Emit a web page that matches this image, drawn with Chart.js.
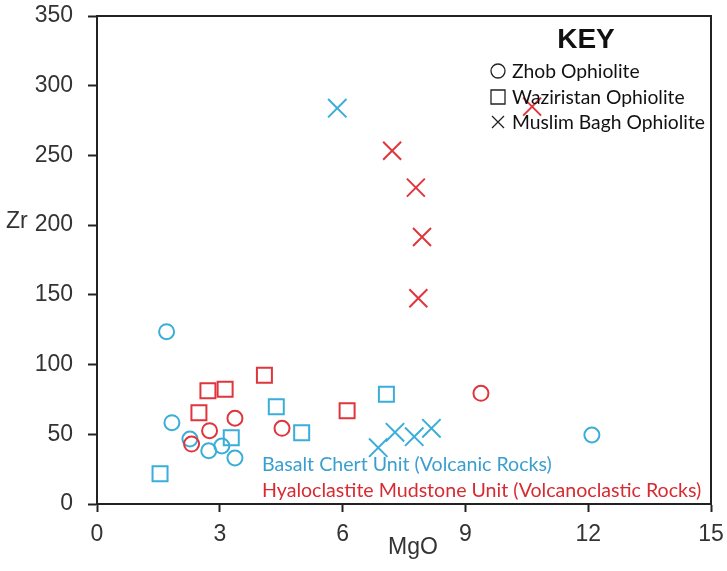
<!DOCTYPE html>
<html>
<head>
<meta charset="utf-8">
<script src="https://cdn.jsdelivr.net/npm/chart.js@4"></script>
<style>
    html, body { margin: 0; padding: 0; background: #fff; }
    #wrap { width: 727px; height: 571px; }
</style>
</head>
<body>
<div id="wrap"><canvas id="chart"></canvas></div>
<script>
// MgO / Zr values
// Basalt Chert Unit (Volcanic Rocks) - blue
const basaltZhobX = [1.70, 1.83, 2.27, 2.73, 3.05, 3.37, 12.09];
const basaltZhobY = [123.6, 58.3, 46.6, 38.2, 41.6, 33.0, 49.5];
const basaltWazX = [1.54, 3.28, 4.38, 5.00, 7.07];
const basaltWazY = [21.7, 47.6, 69.8, 51.1, 78.7];
const basaltMuslimX = [5.87, 6.87, 7.28, 7.75, 8.17];
const basaltMuslimY = [283.9, 40.4, 51.4, 48.3, 54.3];

// Hyaloclastite Mudstone Unit (Volcanoclastic Rocks) - red
const hyaloZhobX = [2.31, 2.75, 3.37, 4.52, 9.38];
const hyaloZhobY = [43.0, 52.6, 61.5, 54.3, 79.4];
const hyaloWazX = [2.49, 2.71, 3.13, 4.09, 6.11];
const hyaloWazY = [65.5, 81.3, 82.3, 92.3, 66.9];
const hyaloMuslimX = [10.63, 7.21, 7.79, 7.94, 7.85];
const hyaloMuslimY = [285.0, 253.4, 226.9, 191.5, 147.6];

const keyLabels = ['Zhob Ophiolite', 'Waziristan Ophiolite', 'Muslim Bagh Ophiolite'];
const unitLabels = ['Basalt Chert Unit (Volcanic Rocks)', 'Hyaloclastite Mudstone Unit (Volcanoclastic Rocks)'];

const blue = '#3aaed9';
const red = '#e0353d';
const textFont = 'Lato, "Open Sans", sans-serif';
const axisFont = '"Liberation Sans", Arial, sans-serif';

function toPoints(xs, ys) {
    return xs.map((x, i) => ({ x: x, y: ys[i] }));
}

function makeSet(label, xs, ys, color, style, radius) {
    return {
        label: label,
        data: toPoints(xs, ys),
        pointStyle: style,
        pointRadius: radius,
        pointHoverRadius: radius,
        pointBorderWidth: 2,
        pointBorderColor: color,
        pointBackgroundColor: 'rgba(0,0,0,0)',
        showLine: false
    };
}

// frame, axis titles, key and unit notes
const decorations = {
    id: 'decorations',
    afterDraw(chart) {
        const ctx = chart.ctx;
        const a = chart.chartArea;
        ctx.save();

        // box round the plot
        ctx.strokeStyle = '#222';
        ctx.lineWidth = 2;
        ctx.strokeRect(a.left, a.top, a.right - a.left, a.bottom - a.top);

        // axis titles
        ctx.fillStyle = '#333';
        ctx.font = '23px ' + axisFont;
        ctx.textBaseline = 'middle';
        ctx.textAlign = 'left';
        ctx.fillText('Zr', 6, 222);
        ctx.fillText('MgO', 388, 548);

        // key
        ctx.fillStyle = '#111';
        ctx.textAlign = 'center';
        ctx.font = 'bold 28px ' + axisFont;
        ctx.fillText('KEY', 586, 40);

        ctx.textAlign = 'left';
        ctx.font = '19.3px ' + textFont;
        const rows = [71, 97, 122];
        ctx.strokeStyle = '#222';
        ctx.lineWidth = 1.3;
        keyLabels.forEach((txt, i) => {
            const cx = 498, cy = rows[i];
            ctx.beginPath();
            if (i === 0) {
                ctx.arc(cx, cy, 7, 0, Math.PI * 2);
            } else if (i === 1) {
                ctx.rect(cx - 7, cy - 7, 14, 14);
            } else {
                ctx.moveTo(cx - 6, cy - 6); ctx.lineTo(cx + 6, cy + 6);
                ctx.moveTo(cx + 6, cy - 6); ctx.lineTo(cx - 6, cy + 6);
            }
            ctx.stroke();
            ctx.fillText(txt, 512, cy + 1);
        });

        // unit notes
        ctx.font = '19.6px ' + textFont;
        ctx.fillStyle = '#3a9fcf';
        ctx.fillText(unitLabels[0], 262, 465);
        ctx.fillStyle = '#d82a31';
        ctx.fillText(unitLabels[1], 262, 491);

        ctx.restore();
    }
};

new Chart(document.getElementById('chart'), {
    type: 'scatter',
    data: {
        datasets: [
            makeSet('Hyalo Zhob', hyaloZhobX, hyaloZhobY, red, 'circle', 7.5),
            makeSet('Hyalo Waziristan', hyaloWazX, hyaloWazY, red, 'rect', 10.6),
            makeSet('Hyalo Muslim Bagh', hyaloMuslimX, hyaloMuslimY, red, 'crossRot', 12.7),
            makeSet('Basalt Zhob', basaltZhobX, basaltZhobY, blue, 'circle', 7.5),
            makeSet('Basalt Waziristan', basaltWazX, basaltWazY, blue, 'rect', 10.6),
            makeSet('Basalt Muslim Bagh', basaltMuslimX, basaltMuslimY, blue, 'crossRot', 13)
        ]
    },
    options: {
        responsive: true,
        maintainAspectRatio: false,
        animation: false,
        layout: { padding: { left: 0, right: 16, top: 16, bottom: 0 } },
        plugins: {
            legend: { display: false },
            tooltip: { enabled: false }
        },
        scales: {
            x: {
                min: 0,
                max: 15,
                ticks: {
                    stepSize: 3,
                    color: '#333',
                    padding: 9,
                    font: { family: axisFont, size: 23 },
                    maxRotation: 0
                },
                grid: { drawOnChartArea: false, drawTicks: true, tickLength: 8, color: '#222', tickWidth: 2 },
                border: { color: '#222', width: 2 },
                afterFit(scale) {
                    scale.height = 67;
                    scale.paddingLeft = 0;
                    scale.paddingRight = 0;
                }
            },
            y: {
                min: 0,
                max: 350,
                ticks: {
                    stepSize: 50,
                    color: '#333',
                    padding: 15,
                    font: { family: axisFont, size: 23 }
                },
                grid: { drawOnChartArea: false, drawTicks: true, tickLength: 9, color: '#222', tickWidth: 2 },
                border: { color: '#222', width: 2 },
                afterFit(scale) {
                    scale.width = 97;
                    scale.paddingTop = 0;
                    scale.paddingBottom = 0;
                }
            }
        }
    },
    plugins: [decorations]
});
</script>
</body>
</html>
